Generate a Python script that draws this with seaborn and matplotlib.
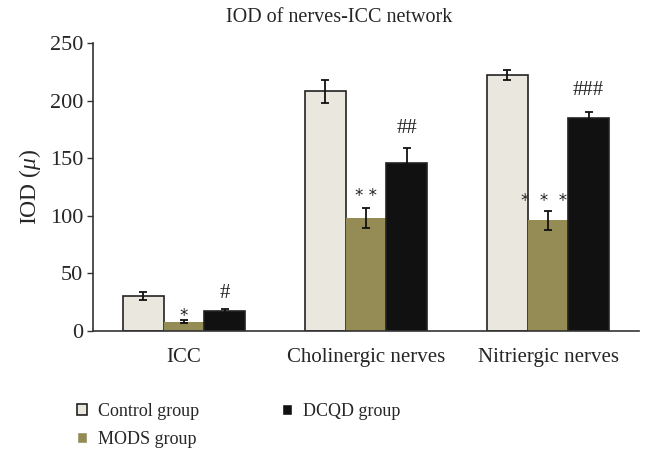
import matplotlib
matplotlib.use("Agg")
import matplotlib.pyplot as plt
import seaborn as sns
import pandas as pd
import numpy as np

categories = ["ICC", "Cholinergic nerves", "Nitriergic nerves"]
groups = ["Control group", "MODS group", "DCQD group"]
control_vals = [30, 208, 222]
mods_vals = [8, 98, 96]
dcqd_vals = [17, 146, 185]
control_err = [3.5, 10, 4.5]
mods_err = [1.2, 9, 8]
dcqd_err = [2.5, 13, 5.5]
mods_marks = ["*", "* *", "*  *  *"]
dcqd_marks = ["#", "##", "###"]

colors = ["#EAE8DE", "#958B55", "#111111"]

rows = []
for g, vals in zip(groups, [control_vals, mods_vals, dcqd_vals]):
    for c, v in zip(categories, vals):
        rows.append({"category": c, "group": g, "value": v})
df = pd.DataFrame(rows)

sns.set_style("white")
plt.rcParams["font.family"] = ["Liberation Serif", "DejaVu Serif"]
plt.rcParams["mathtext.fontset"] = "custom"
plt.rcParams["mathtext.it"] = "Liberation Serif:italic"
plt.rcParams["mathtext.rm"] = "Liberation Serif"

fig = plt.figure(figsize=(6.53, 4.68), dpi=100)
ax = fig.add_axes([0.1424, 0.2927, 0.8362, 0.6154])

sns.barplot(data=df, x="category", y="value", hue="group", order=categories,
            hue_order=groups, palette=colors, width=0.67, errorbar=None,
            saturation=1, ax=ax)

# vertical offsets (pixels) of the significance marks above the error bars
star_off = [4, 12, 10.5]
star_dx = [0, 0, -4]
hash_off = [15, 19, 21]

errs = [control_err, mods_err, dcqd_err]
vals_all = [control_vals, mods_vals, dcqd_vals]
containers = list(ax.containers)[:3]
for gi, cont in enumerate(containers):
    for ci, bar in enumerate(list(cont)):
        xc = bar.get_x() + bar.get_width() / 2
        if gi != 1:
            bar.set_edgecolor("#222222")
            bar.set_linewidth(1.2)
        else:
            bar.set_edgecolor("none")
        ax.errorbar(xc, vals_all[gi][ci], yerr=errs[gi][ci], fmt="none",
                    ecolor="#111111", elinewidth=1.3, capsize=3, capthick=1.3,
                    zorder=5)
        top = vals_all[gi][ci] + errs[gi][ci]
        if gi == 1:
            ax.annotate(mods_marks[ci], (xc, top),
                        xytext=(star_dx[ci] * 0.72, star_off[ci] * 0.72),
                        textcoords="offset points", ha="center", va="center",
                        fontsize=12, color="#222222", family="DejaVu Sans")
        elif gi == 2:
            ax.annotate(dcqd_marks[ci], (xc, top), xytext=(0, hash_off[ci] * 0.72),
                        textcoords="offset points", ha="center", va="center",
                        fontsize=15, color="#222222")

ax.set_xlim(-0.5, 2.5)
ax.set_ylim(0, 250)
ax.set_yticks([0, 50, 100, 150, 200, 250])
ax.set_xticks([0.5, 1.5, 2.5])
ax.set_xticklabels([])
ax.set_xticks([0, 1, 2], minor=True)
ax.set_xticklabels(categories, minor=True, fontsize=15)
ax.tick_params(axis="x", which="minor", length=0, pad=12)
ax.tick_params(axis="x", which="major", length=4, direction="out", color="#333333", width=1)
ax.tick_params(axis="y", length=4, direction="out", color="#333333", width=1,
               labelsize=16, pad=3, left=True)
ax.set_xlabel("")
ax.set_ylabel(r"IOD ($\mu$)", fontsize=17, labelpad=5)
for s in ["top", "right"]:
    ax.spines[s].set_visible(False)
for s in ["left", "bottom"]:
    ax.spines[s].set_color("#333333")
    ax.spines[s].set_linewidth(1.2)

fig.text(0.52, 0.962, "IOD of nerves-ICC network", ha="center", va="center", fontsize=14.5)

handles, labels = ax.get_legend_handles_labels()
if ax.get_legend() is not None:
    ax.get_legend().remove()
handles[0].set_edgecolor("#222222")
handles[0].set_linewidth(1.2)
fig.legend(handles, labels, ncol=2, loc="upper left", bbox_to_anchor=(0.118, 0.139),
           frameon=False, fontsize=13, handlelength=0.55, handleheight=0.55,
           handletextpad=0.6, columnspacing=4.6, labelspacing=0.6,
           borderpad=0, borderaxespad=0)

fig.savefig("out.png", dpi=100)
